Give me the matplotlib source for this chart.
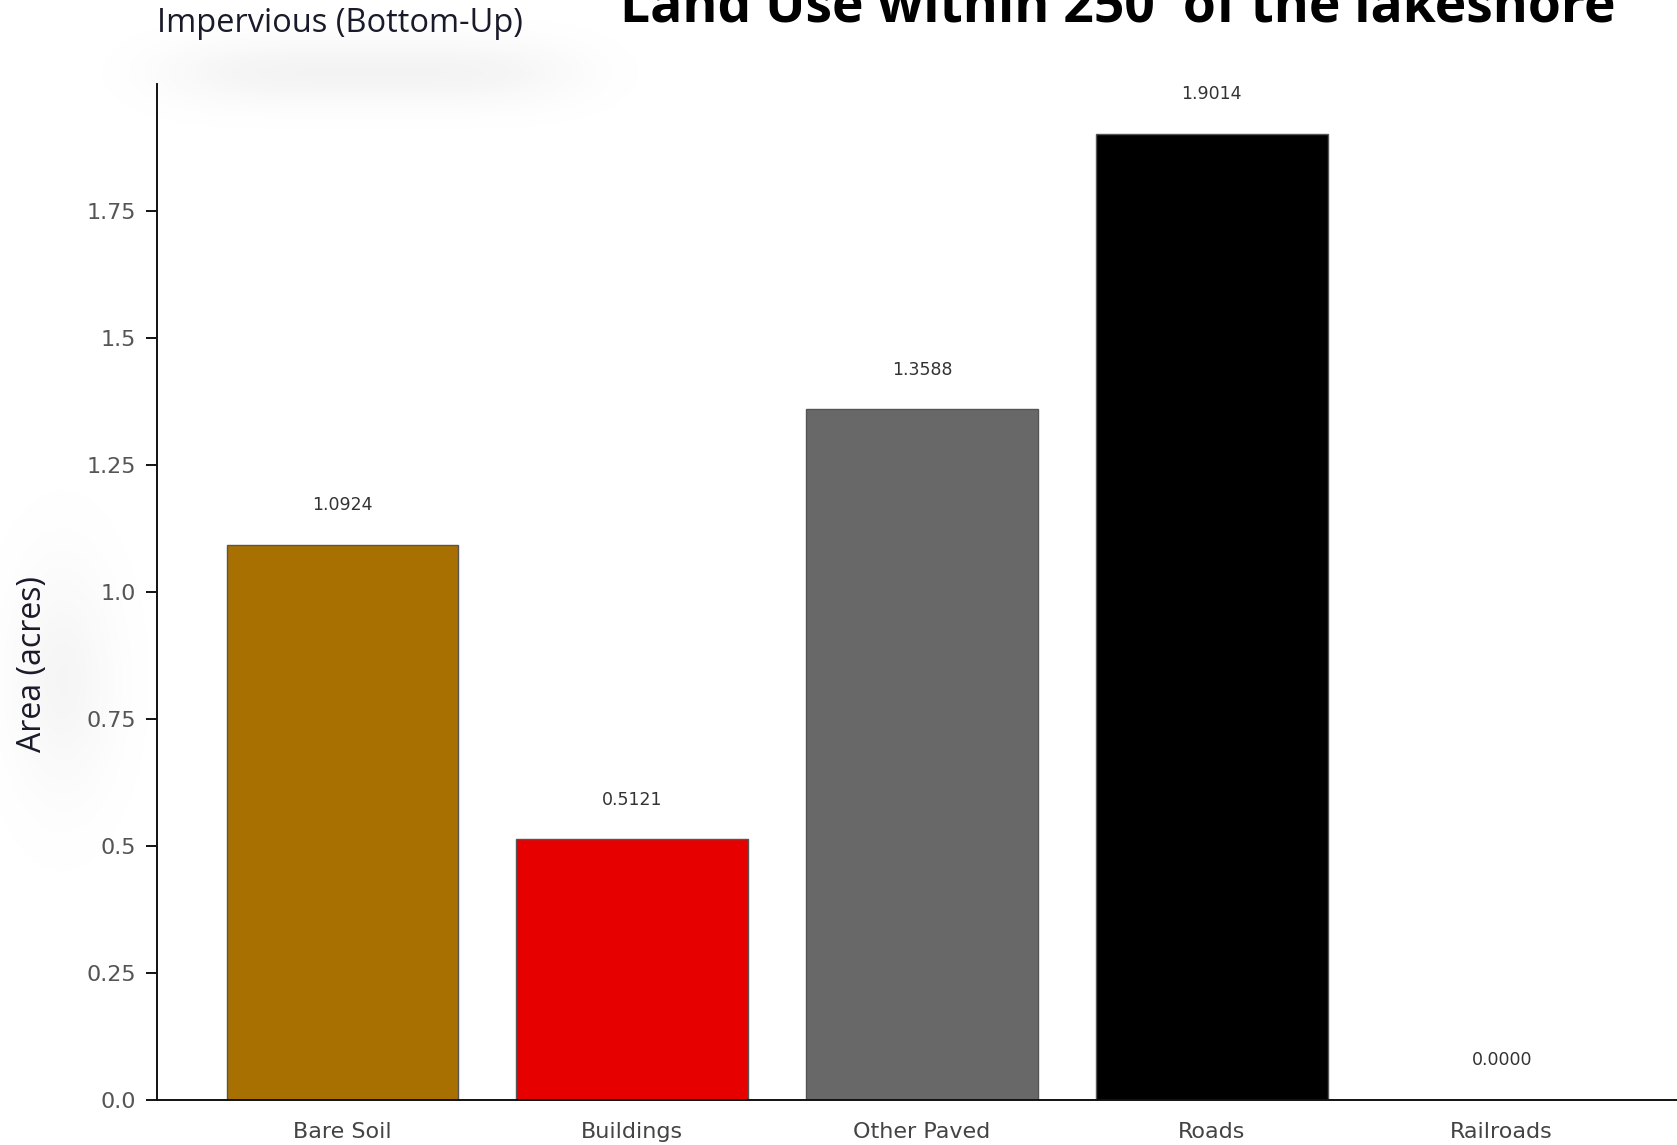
import numpy as np
import matplotlib
matplotlib.use("Agg")
import matplotlib.pyplot as plt

# Impervious land-use classes and their area (acres) within 250' of the lakeshore
categories = ["Bare Soil", "Buildings", "Other Paved", "Roads", "Railroads"]
areas = [1.0924, 0.5121, 1.3588, 1.9014, 0.0000]
bar_colors = ["#A87000", "#E60000", "#686868", "#000000", "#9C9C9C"]
y_ticks = [0.0, 0.25, 0.5, 0.75, 1.0, 1.25, 1.5, 1.75]
y_tick_labels = ["0.0", "0.25", "0.5", "0.75", "1.0", "1.25", "1.5", "1.75"]

W, H = 1677, 1145
fig = plt.figure(figsize=(W / 100, H / 100), dpi=100, facecolor="white")

# soft grey shading behind the subtitle and the y-axis label
bg = fig.add_axes([0, 0, 1, 1], zorder=-5)
bg.set_axis_off()
yy, xx = np.mgrid[0:H, 0:W]
shade = (0.10 * np.exp(-(((xx - 370) / 200.0) ** 4 + ((yy - 72) / 32.0) ** 2))
         + 0.08 * np.exp(-(((xx - 62) / 50.0) ** 2 + ((yy - 680) / 110.0) ** 2)))
img = np.ones((H, W, 4))
img[..., :3] = 0.55
img[..., 3] = shade
bg.imshow(img, extent=[0, W, H, 0], aspect="auto", interpolation="bilinear")
bg.set_xlim(0, W)
bg.set_ylim(H, 0)

# main axes (right edge runs past the figure border)
left_px, bottom_px, top_px, unit_px = 157, 45.5, 83.8, 289.8
xmin, xmax = -0.64, 4.64
ax_w = (xmax - xmin) * unit_px
ax = fig.add_axes([left_px / W, bottom_px / H, ax_w / W, (H - top_px - bottom_px) / H])
ax.set_facecolor("none")

x = np.arange(len(categories))
ax.bar(x, areas, width=0.8, color=bar_colors, edgecolor="#555555", linewidth=1.0)

for xi, v in zip(x, areas):
    ax.annotate(f"{v:.4f}", (xi, v), xytext=(0, 28.5), textcoords="offset points",
                ha="center", va="center", fontsize=12.5, color="#333333",
                family="DejaVu Sans")

ax.set_xlim(xmin, xmax)
ax.set_ylim(0, 2.0)
ax.set_xticks(x)
ax.set_xticklabels(categories, fontsize=16, color="#444444", family="DejaVu Sans")
ax.set_yticks(y_ticks)
ax.set_yticklabels(y_tick_labels, fontsize=16, color="#555555", family="DejaVu Sans")
ax.tick_params(axis="x", length=0, pad=16)
ax.tick_params(axis="y", length=8, width=1.3, color="black", pad=7)

for side in ("top", "right"):
    ax.spines[side].set_visible(False)
for side in ("left", "bottom"):
    ax.spines[side].set_linewidth(1.4)
    ax.spines[side].set_color("#111111")

fig.text(33 / W, 1 - 664 / H, "Area (acres)", fontsize=23, family="Open Sans",
         color="#1a1a2a", rotation=90, ha="center", va="center")

fig.text(157 / W, 1 - 32 / H, "Impervious (Bottom-Up)", fontsize=23.5,
         family="Open Sans", color="#1a1a2a", ha="left", va="baseline")
fig.text(1118 / W, 1 - 21 / H, "Land Use within 250' of the lakeshore",
         fontsize=38.5, family="Open Sans", weight="bold", color="black",
         ha="center", va="baseline")

fig.savefig("out.png", dpi=100, facecolor="white")
